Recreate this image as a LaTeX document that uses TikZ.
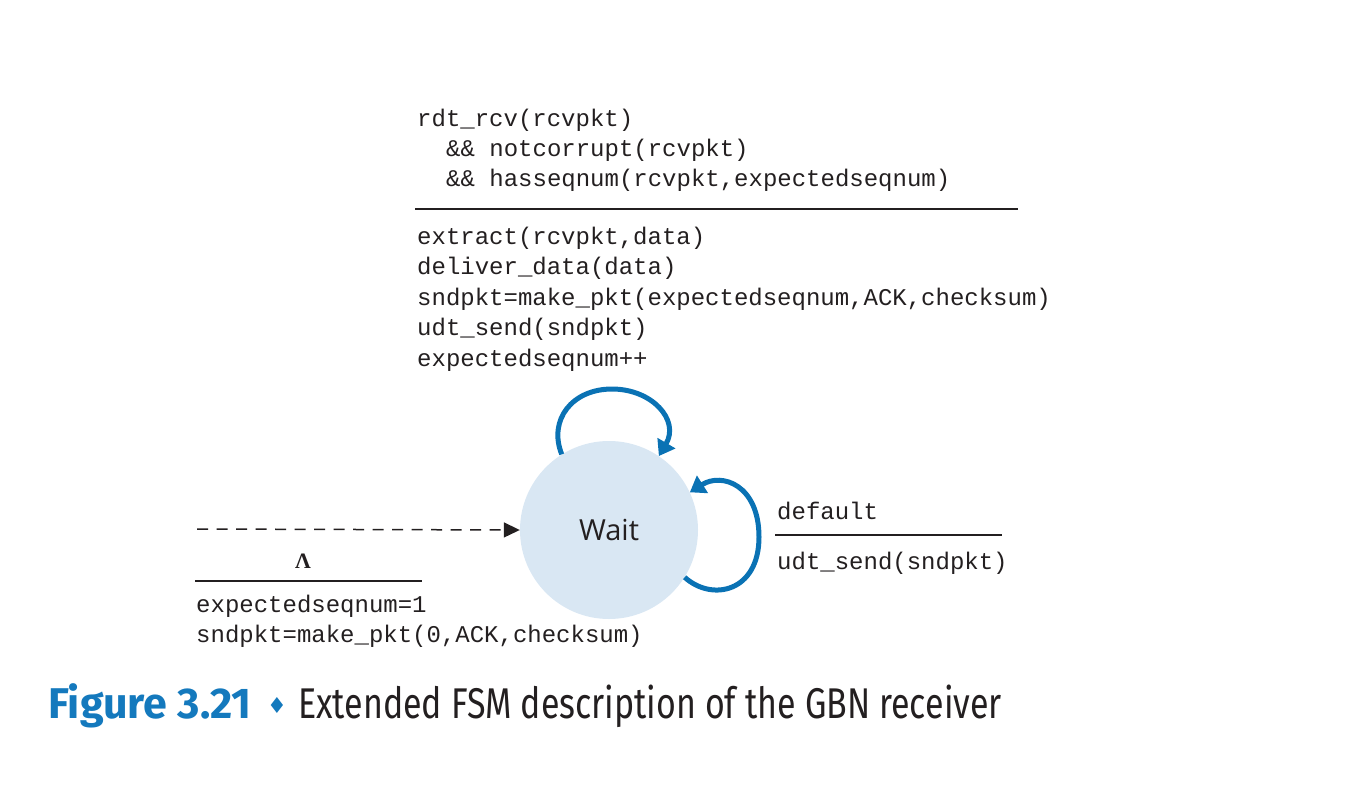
\documentclass[tikz,border=0pt]{standalone}
\usepackage{fontspec}
\usetikzlibrary{arrows.meta}
\newfontfamily\mono{Liberation Mono}
\newfontfamily\seriffont{Liberation Serif}
\newfontfamily\waitfont{Open Sans}
\newfontfamily\capfont[FakeStretch=0.79]{Fira Sans}
\newfontfamily\capboldfont{Fira Sans}
\newfontfamily\symfont{DejaVu Sans}
\definecolor{fsmblue}{HTML}{0A72B4}
\definecolor{statefill}{HTML}{D9E7F3}
\definecolor{capblue}{HTML}{1479BD}
\definecolor{txt}{HTML}{231F20}
\begin{document}
\begin{tikzpicture}[x=1pt,y=-1pt,
  code/.style={font=\mono\fontsize{24}{30}\selectfont, anchor=base west, inner sep=0pt, text=txt},
  rulebar/.style={line width=2pt, draw=txt},
  loopy/.style={draw=fsmblue, line width=5pt, -{Triangle[length=15pt,width=20pt]}},
  initarrow/.style={draw=txt, line width=1.5pt, dash pattern=on 11pt off 8.5pt, -{Triangle[length=16pt,width=15pt]}}]
\useasboundingbox (0,0) rectangle (1360,790);

% top transition label
\node[code] (g1) at (417,126) {rdt\_rcv(rcvpkt)};
\node[code] (g2) at (446,156) {\&\& notcorrupt(rcvpkt)};
\node[code] (g3) at (446,186) {\&\& hasseqnum(rcvpkt,expectedseqnum)};
\draw[rulebar] (415,209) -- (1018,209);
\node[code] (a1) at (417,244) {extract(rcvpkt,data)};
\node[code] (a2) at (417,274) {deliver\_data(data)};
\node[code] (a3) at (417,305) {sndpkt=make\_pkt(expectedseqnum,ACK,checksum)};
\node[code] (a4) at (417,335) {udt\_send(sndpkt)};
\node[code] (a5) at (417,366) {expectedseqnum++};

% state
\node[circle, fill=statefill, minimum size=178pt, inner sep=0pt, text=txt,
      font=\waitfont\fontsize{29}{34}\selectfont] (wait) at (609,530) {Wait};

% self loops
\draw[loopy] (wait.122) .. controls (548,420) and (572,389) .. (612,389)
             .. controls (652,389) and (680,420) .. (wait.56);
\draw[loopy] (wait.-32) .. controls (712,602) and (759,592) .. (759,537)
             .. controls (759,485) and (722,472) .. (wait.25);

% initial transition
\coordinate (init) at (197,529);
\draw[initarrow] (init) -- (wait.west);
\node[anchor=base, inner sep=0pt, text=txt, font=\seriffont\bfseries\fontsize{22}{26}\selectfont] (lam) at (303,568) {Λ};
\draw[rulebar] (195,581) -- (422,581);
\node[code] (i1) at (196,612) {expectedseqnum=1};
\node[code] (i2) at (196,642) {sndpkt=make\_pkt(0,ACK,checksum)};

% default transition label
\node[code] (d1) at (777,519) {default};
\draw[rulebar] (775,535) -- (1002,535);
\node[code] (d2) at (777,569) {udt\_send(sndpkt)};

% caption
\node[anchor=base west, inner sep=0pt, text=capblue, font=\capboldfont\bfseries\fontsize{43}{50}\selectfont] (fig) at (48,718) {Figure 3.21};
\node[anchor=base, inner sep=0pt, text=capblue, font=\symfont\fontsize{22}{26}\selectfont] (dia) at (277,713) {♦};
\node[anchor=base west, inner sep=0pt, text=txt, font=\capfont\fontsize{43}{50}\selectfont] (cap) at (298,718) {Extended FSM description of the GBN receiver};
\end{tikzpicture}
\end{document}
